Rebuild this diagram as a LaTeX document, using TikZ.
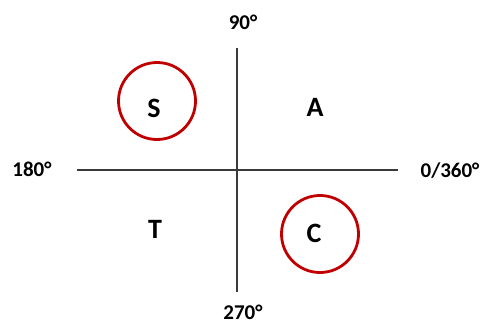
\documentclass[tikz,border=0pt]{standalone}
\usepackage{fontspec}
\setmainfont{Carlito}
\definecolor{ringred}{HTML}{C00000}
\definecolor{axisgrey}{HTML}{3A3A3A}
\tikzset{
  axisline/.style={draw=axisgrey, line width=2pt},
  ring/.style={draw=ringred, line width=2.8pt, circle, minimum size=77pt, inner sep=0pt},
  quad/.style={font=\fontsize{28}{30}\selectfont\bfseries, inner sep=0pt},
  deg/.style={font=\fontsize{21}{23}\selectfont\bfseries, inner sep=0pt}
}
\begin{document}
\begin{tikzpicture}[x=1pt,y=-1pt]
\useasboundingbox (0,0) rectangle (485,324);
\coordinate (L) at (77,170);
\coordinate (R) at (398,170);
\coordinate (T0) at (237,48);
\coordinate (B0) at (237,292);
\draw[axisline] (L) -- (R);
\draw[axisline] (T0) -- (B0);
\node[ring] (cs) at (157,101) {};
\node[ring] (cc) at (320,234) {};
\node[quad] (s) at (154,108) {S};
\node[quad] (a) at (315,107) {A};
\node[quad] (t) at (155,229) {T};
\node[quad] (c) at (314,233) {C};
\node[deg] (d90) at (243,22) {90°};
\node[deg] (d270) at (243,312.5) {270°};
\node[deg] (d180) at (32,169) {180°};
\node[deg] (d0) at (450,171) {0/360°};
\end{tikzpicture}
\end{document}
